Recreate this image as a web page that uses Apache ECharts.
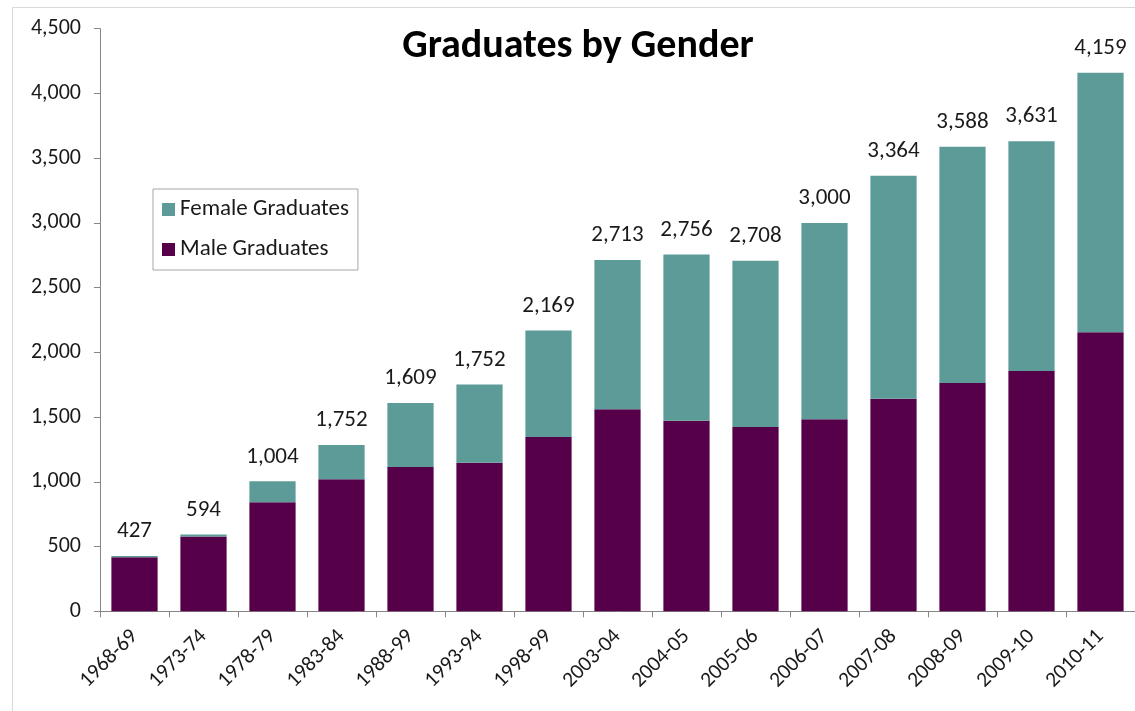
<!DOCTYPE html>
<html>
<head>
<meta charset="utf-8">
<script src="https://cdn.jsdelivr.net/npm/echarts@6/dist/echarts.min.js"></script>
<style>
html,body{margin:0;padding:0;background:#fff;}
#chart{width:1135px;height:711px;}
</style>
</head>
<body>
<div id="chart"></div>
<script>
const categories = ['1968-69','1973-74','1978-79','1983-84','1988-99','1993-94','1998-99','2003-04','2004-05','2005-06','2006-07','2007-08','2008-09','2009-10','2010-11'];
const maleValues = [417, 577, 842, 1020, 1115, 1148, 1347, 1560, 1472, 1424, 1483, 1642, 1763, 1856, 2155];
const femaleValues = [10, 17, 162, 264, 494, 604, 822, 1153, 1284, 1284, 1517, 1722, 1825, 1775, 2004];
const totalLabels = ['427','594','1,004','1,752','1,609','1,752','2,169','2,713','2,756','2,708','3,000','3,364','3,588','3,631','4,159'];
const yTicks = [0, 500, 1000, 1500, 2000, 2500, 3000, 3500, 4000, 4500];

const FONT = 'Carlito, Lato, sans-serif';
const chart = echarts.init(document.getElementById('chart'), null, {renderer: 'canvas'});
chart.setOption({
  backgroundColor: '#ffffff',
  animation: false,
  title: {
    text: 'Graduates by Gender',
    left: 573, top: 22, textAlign: 'center',
    textStyle: {fontFamily: FONT, fontSize: 40, fontWeight: 'bold', color: '#000'}
  },
  graphic: [{
    type: 'rect', left: 10, top: 5, silent: true, z: -1,
    shape: {width: 1200, height: 800},
    style: {fill: 'none', stroke: '#d9d9d9', lineWidth: 1}
  }],
  legend: {
    orient: 'vertical', left: 153, top: 189,
    data: ['Female Graduates', 'Male Graduates'],
    itemWidth: 13, itemHeight: 13, itemGap: 17,
    padding: [9, 9, 9, 9],
    borderColor: '#a6a6a6', borderWidth: 1,
    icon: 'rect',
    textStyle: {fontFamily: FONT, fontSize: 23, color: '#1a1a1a', lineHeight: 23}
  },
  grid: {left: 100, right: -2, top: 28.7, bottom: 99.7, containLabel: false},
  xAxis: {
    type: 'category', data: categories,
    axisLine: {lineStyle: {color: '#868686', width: 1}},
    axisTick: {show: true, length: 6, alignWithLabel: false, lineStyle: {color: '#868686'}},
    axisLabel: {rotate: 45, margin: 22, interval: 0, fontFamily: FONT, fontSize: 21.5, color: '#1a1a1a'}
  },
  yAxis: {
    type: 'value', min: yTicks[0], max: yTicks[yTicks.length - 1], interval: 500,
    axisLine: {show: true, lineStyle: {color: '#868686', width: 1}},
    axisTick: {show: true, length: 6, lineStyle: {color: '#868686'}},
    splitLine: {show: false},
    axisLabel: {margin: 19, fontFamily: FONT, fontSize: 22, color: '#1a1a1a',
      formatter: v => v.toLocaleString('en-US')}
  },
  series: [
    {
      name: 'Male Graduates', type: 'bar', stack: 'total', data: maleValues,
      barWidth: '67%',
      itemStyle: {color: '#57004a'}
    },
    {
      name: 'Female Graduates', type: 'bar', stack: 'total', data: femaleValues,
      barWidth: '67%',
      itemStyle: {color: '#5d9b99'},
      label: {
        show: true, position: 'top', distance: 13,
        fontFamily: FONT, fontSize: 23, color: '#1a1a1a',
        formatter: p => totalLabels[p.dataIndex]
      }
    }
  ]
});
</script>
</body>
</html>
